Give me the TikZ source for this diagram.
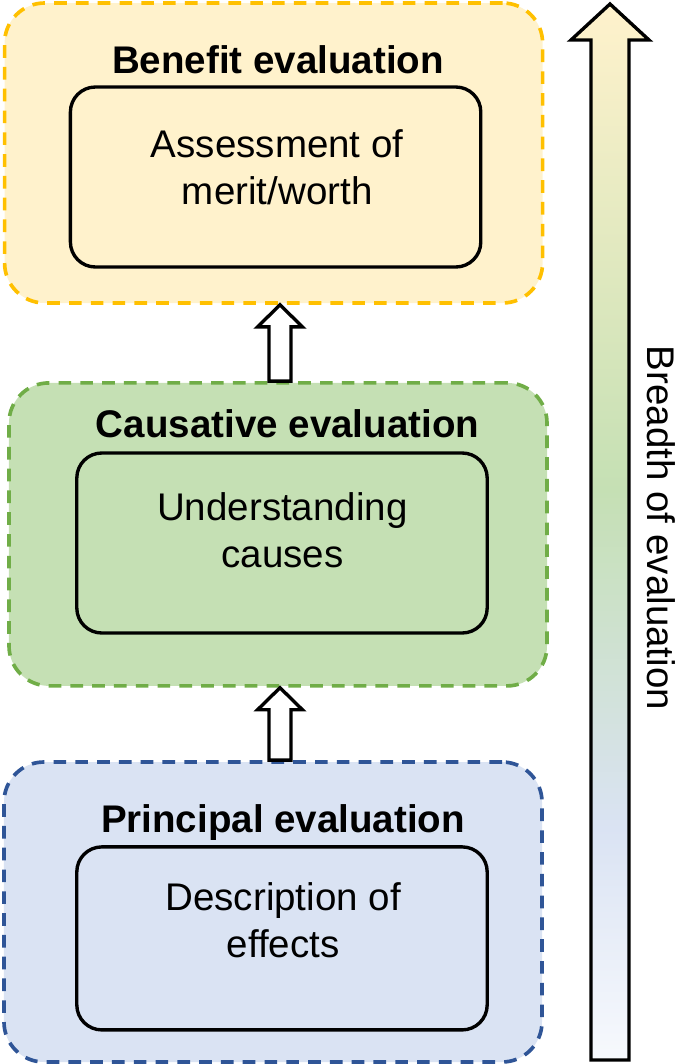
\documentclass[tikz,border=0pt]{standalone}
\usepackage{fontspec}
\setmainfont{Liberation Sans}
\usepackage{xcolor}
\usepackage{tikz}
\usetikzlibrary{calc,positioning}
\definecolor{amarillo}{HTML}{FFC000}
\definecolor{amarilloclaro}{HTML}{FFF2CC}
\definecolor{verde}{HTML}{70AD47}
\definecolor{verdeclaro}{HTML}{C5E0B4}
\definecolor{azul}{HTML}{2F5597}
\definecolor{azulclaro}{HTML}{DAE3F3}
\definecolor{blanco}{HTML}{F7F9FD}
\pgfdeclareverticalshading{amplitud}{100bp}{color(0bp)=(blanco); color(25bp)=(blanco); color(36bp)=(azulclaro); color(52bp)=(verdeclaro); color(75bp)=(amarilloclaro); color(100bp)=(amarilloclaro)}
\tikzset{
  marco/.style={dash pattern=on 9pt off 6.5pt,line width=2.6pt,rounded corners=1cm,minimum width=13.45cm,minimum height=7.5cm},
  marcoamarillo/.style={marco,draw=amarillo,fill=amarilloclaro},
  marcoverde/.style={marco,draw=verde,fill=verdeclaro},
  marcoazul/.style={marco,draw=azul,fill=azulclaro},
  caja/.style={draw=black,line width=2.4pt,rounded corners=0.625cm,minimum width=10.26cm,minimum height=4.5cm},
  titulo/.style={font=\fontsize{27.4}{33.4}\selectfont\bfseries,anchor=base},
  texto/.style={font=\fontsize{27.4}{33.4}\selectfont,align=center},
  bloque/.style n args={3}{to path={let \p1=(\tikztostart),\p2=(\tikztotarget) in
    (\x1-#1,\y1) -- (\x1-#1,\y2-#3) -- (\x1-#2,\y2-#3) -- (\x2,\y2)
    -- (\x1+#2,\y2-#3) -- (\x1+#1,\y2-#3) -- (\x1+#1,\y1) -- cycle}},
  flechahueca/.style={bloque={0.275cm}{0.56cm}{0.55cm},draw=black,fill=white,line width=2.4pt},
  flechaancha/.style={bloque={0.475cm}{0.975cm}{0.9cm},draw=black,shading=amplitud,line width=2.4pt},
}
\begin{document}
\begin{tikzpicture}
  \useasboundingbox (0,0) rectangle (17.125,-26.6);
  % tres niveles
  \node[marcoamarillo] (benef) at (6.84,-3.825) {};
  \node[marcoverde,minimum height=7.575cm] (causa) at (6.95,-13.36) {};
  \node[marcoazul] (princ) at (6.825,-22.8) {};
  \node[titulo] (tbenef) at (6.95,-1.825) {Benefit evaluation};
  \node[titulo] (tcausa) at (7.19,-10.925) {Causative evaluation};
  \node[titulo] (tprinc) at (7.075,-20.8) {Principal evaluation};
  \node[caja] (merito) at (6.89,-4.425) {};
  \node[caja] (causas) at (7.05,-13.575) {};
  \node[caja,minimum height=4.575cm] (efectos) at (7.05,-23.46) {};
  \node[texto] (tmerito) at (6.93,-4.17) {Assessment of\\merit/worth};
  \node[texto] (tcausas) at (7.06,-13.25) {Understanding\\causes};
  \node[texto] (tefectos) at (7.08,-23.0) {Description of\\effects};
  % flechas entre niveles
  \coordinate (eje) at (7.0,0);
  \draw[flechahueca] (eje |- causa.north) to (eje |- benef.south);
  \draw[flechahueca] (eje |- princ.north) to (eje |- causa.south);
  % amplitud
  \coordinate (base) at (15.25,-26.5);
  \coordinate (punta) at (15.25,-0.1);
  \shadedraw[flechaancha] (base) to (punta);
  \node[texto,rotate=-90] (tamplitud) at (16.52,-13.2) {Breadth of evaluation};
\end{tikzpicture}
\end{document}
